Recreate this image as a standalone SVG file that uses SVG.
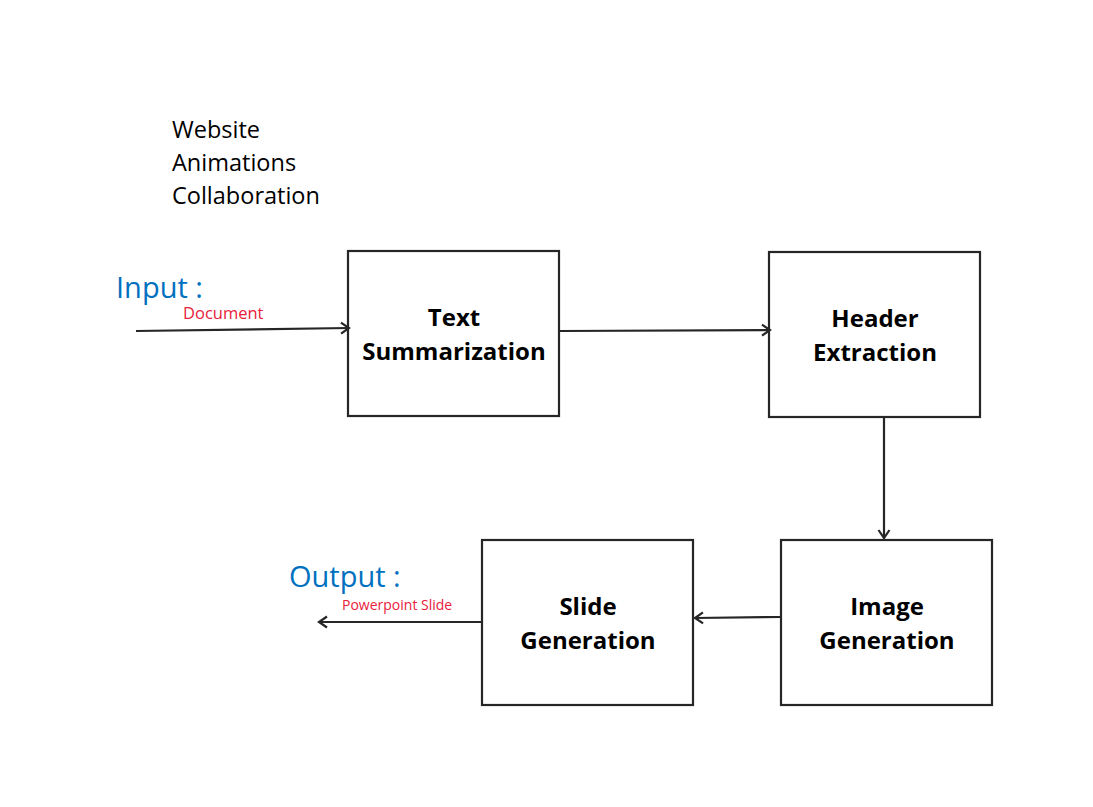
<svg xmlns="http://www.w3.org/2000/svg" width="1093" height="807" viewBox="0 0 1093 807">
<style>
.box{fill:#fff;stroke:#262626;stroke-width:2.2}
.lbl{font-family:"Open Sans","Noto Sans",sans-serif;font-weight:bold;font-size:24px;fill:#000;text-anchor:middle}
.conn{stroke:#262626;stroke-width:2.2;fill:none;marker-end:url(#ah)}
.io{font-family:"Open Sans","Noto Sans",sans-serif;font-size:29px;fill:#0070C0}
.sub{font-family:"Open Sans","Noto Sans",sans-serif;font-size:15px;fill:#E8203A}
.note{font-family:"Open Sans","Noto Sans",sans-serif;font-size:23.5px;fill:#000}
</style>
<defs>
<marker id="ah" markerWidth="14" markerHeight="14" refX="11" refY="7" orient="auto" markerUnits="userSpaceOnUse">
<polyline points="3,1.5 11,7 3,12.5" fill="none" stroke="#262626" stroke-width="2.2"/>
</marker>
</defs>
<rect width="1093" height="807" fill="#fff"/>
<g id="notes">
<text class="note" x="172" y="138">Website</text>
<text class="note" x="172" y="171">Animations</text>
<text class="note" x="172" y="204">Collaboration</text>
</g>
<g id="input">
<text class="io" x="116" y="298">Input :</text>
<text class="sub" x="183" y="319" style="font-size:16.5px">Document</text>
</g>
<g id="output">
<text class="io" x="289" y="587">Output :</text>
<text class="sub" x="342" y="610" style="font-size:14px">Powerpoint Slide</text>
</g>
<g id="text-summarization">
<rect class="box" x="348" y="251" width="211" height="165"/>
<text class="lbl" x="454" y="326">Text</text>
<text class="lbl" x="454" y="360">Summarization</text>
</g>
<g id="header-extraction">
<rect class="box" x="769" y="252" width="211" height="165"/>
<text class="lbl" x="875" y="327">Header</text>
<text class="lbl" x="875" y="361">Extraction</text>
</g>
<g id="image-generation">
<rect class="box" x="781" y="540" width="211" height="165"/>
<text class="lbl" x="887" y="615">Image</text>
<text class="lbl" x="887" y="649">Generation</text>
</g>
<g id="slide-generation">
<rect class="box" x="482" y="540" width="211" height="165"/>
<text class="lbl" x="588" y="615">Slide</text>
<text class="lbl" x="588" y="649">Generation</text>
</g>
<g id="connectors">
<line class="conn" x1="136" y1="331" x2="349" y2="328"/>
<line class="conn" x1="560" y1="331" x2="770" y2="330"/>
<line class="conn" x1="884" y1="418" x2="884" y2="538"/>
<line class="conn" x1="781" y1="617" x2="695" y2="618"/>
<line class="conn" x1="482" y1="622" x2="319" y2="622"/>
</g>
</svg>
